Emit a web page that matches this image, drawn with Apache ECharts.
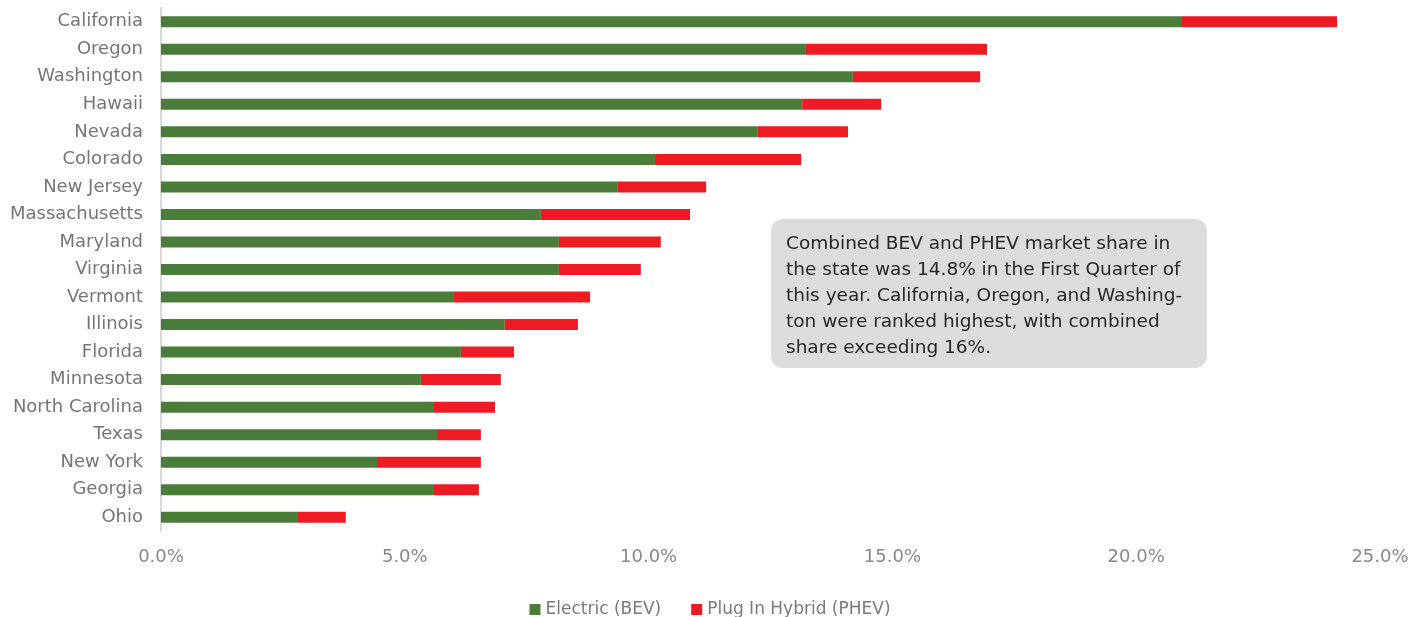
<!DOCTYPE html>
<html>
<head>
<meta charset="utf-8">
<script src="https://cdn.jsdelivr.net/npm/echarts@6/dist/echarts.min.js"></script>
<style>html,body{margin:0;padding:0;background:#fff}#c{width:1420px;height:617px}</style>
</head>
<body>
<div id="c"></div>
<script>
const states = ["California","Oregon","Washington","Hawaii","Nevada","Colorado","New Jersey","Massachusetts","Maryland","Virginia","Vermont","Illinois","Florida","Minnesota","North Carolina","Texas","New York","Georgia","Ohio"];
const bev  = [20.92,13.21,14.19,13.15,12.24,10.13,9.37,7.79,8.16,8.16,6.01,7.05,6.15,5.33,5.58,5.66,4.43,5.58,2.81];
const phev = [3.20,3.73,2.61,1.62,1.85,3.00,1.81,3.06,2.09,1.68,2.79,1.50,1.09,1.64,1.27,0.90,2.13,0.94,0.98];
const note = "Combined BEV and PHEV market share in\nthe state was 14.8% in the First Quarter of\nthis year. California, Oregon, and Washing-\nton were ranked highest, with combined\nshare exceeding 16%.";

const FONT = "'DejaVu Sans', 'Liberation Sans', sans-serif";
const chart = echarts.init(document.getElementById('c'));
chart.setOption({
  animation: false,
  textStyle: {fontFamily: FONT},
  grid: {left: 161, right: 40, top: 8, bottom: 86},
  legend: {
    top: 596, left: 'center', itemWidth: 11, itemHeight: 11, itemGap: 30,
    textStyle: {fontSize: 17, color: '#7a7a7a', fontFamily: FONT},
    icon: 'rect'
  },
  xAxis: {
    type: 'value', min: 0, max: 25, interval: 5,
    axisLine: {show: false}, axisTick: {show: false}, splitLine: {show: false},
    axisLabel: {formatter: v => v.toFixed(1) + '%', fontSize: 18, color: '#888', margin: 17}
  },
  yAxis: {
    type: 'category', inverse: true, data: states,
    axisLine: {show: true, lineStyle: {color: '#d9d9d9', width: 2}},
    axisTick: {show: false},
    axisLabel: {fontSize: 18, color: '#757575', margin: 18}
  },
  series: [
    {name: 'Electric (BEV)', type: 'bar', stack: 't', data: bev, barWidth: 11,
     itemStyle: {color: '#4A7D39'}},
    {name: 'Plug In Hybrid (PHEV)', type: 'bar', stack: 't', data: phev, barWidth: 11,
     itemStyle: {color: '#ED1C24'}}
  ],
  graphic: [
    {type: 'group', left: 771, top: 219, children: [
      {type: 'rect', shape: {x: 0, y: 0, width: 436, height: 149, r: 12},
       style: {fill: '#dcdcde'}},
      {type: 'text', left: 15, top: 12, style: {text: note, fontSize: 18.5, lineHeight: 26,
       fill: '#262626', fontFamily: FONT}}
    ]}
  ]
});
</script>
</body>
</html>
